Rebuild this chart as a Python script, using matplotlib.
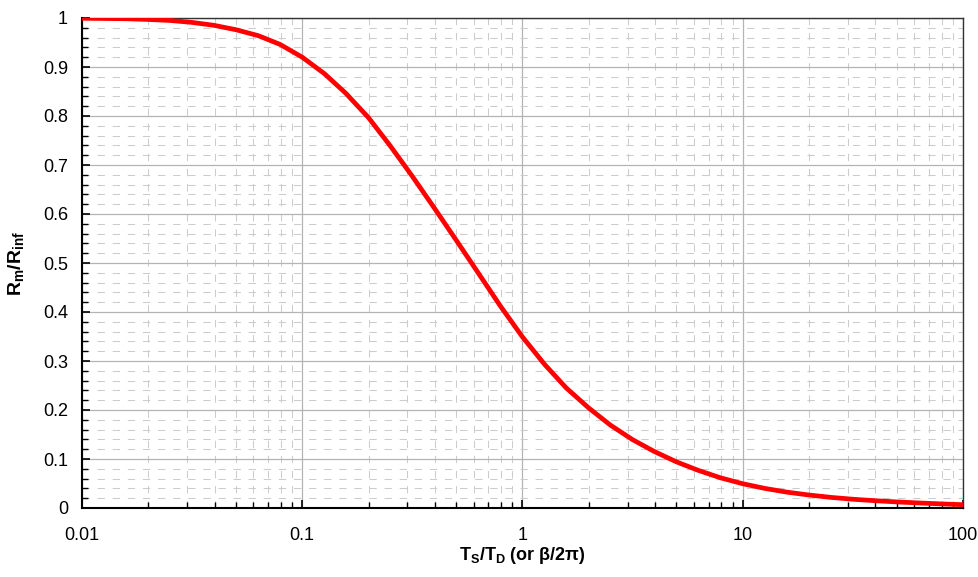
import matplotlib
matplotlib.use("Agg")
import matplotlib.pyplot as plt
from matplotlib.ticker import FixedLocator, NullFormatter

plt.rcParams['font.family'] = ['Liberation Sans', 'DejaVu Sans']
plt.rcParams['mathtext.fontset'] = 'custom'
plt.rcParams['mathtext.rm'] = 'Liberation Sans:bold'
plt.rcParams['mathtext.bf'] = 'Liberation Sans:bold'
plt.rcParams['mathtext.it'] = 'Liberation Sans:bold'
plt.rcParams['mathtext.default'] = 'bf'

# Data
ts_td = [0.01, 0.0126, 0.0158, 0.02, 0.0251, 0.0316, 0.0398, 0.0501, 0.0631, 0.0794,
         0.1, 0.126, 0.158, 0.2, 0.251, 0.316, 0.398, 0.501, 0.631, 0.794,
         1.0, 1.26, 1.58, 2.0, 2.51, 3.16, 3.98, 5.01, 6.31, 7.94,
         10.0, 12.6, 15.8, 20.0, 25.1, 31.6, 39.8, 50.1, 63.1, 79.4, 100.0]
rm_rinf = [0.9995, 0.999, 0.9985, 0.997, 0.995, 0.991, 0.985, 0.976, 0.964, 0.946,
           0.920, 0.8865, 0.846, 0.7965, 0.739, 0.677, 0.612, 0.546, 0.479, 0.412,
           0.349, 0.293, 0.245, 0.204, 0.169, 0.1395, 0.115, 0.094, 0.0765, 0.0615,
           0.0495, 0.040, 0.0325, 0.0265, 0.0217, 0.0179, 0.0149, 0.0124, 0.0103, 0.0084, 0.0067]

x_ticks = [0.01, 0.1, 1, 10, 100]
x_tick_labels = ['0.01', '0.1', '1', '10', '100']
y_ticks = [0, 0.1, 0.2, 0.3, 0.4, 0.5, 0.6, 0.7, 0.8, 0.9, 1.0]
y_tick_labels = ['0', '0.1', '0.2', '0.3', '0.4', '0.5', '0.6', '0.7', '0.8', '0.9', '1']

fig = plt.figure(figsize=(9.79, 5.77), dpi=100)
ax = fig.add_axes([82/979, 69/577, 881/979, 490/577])

ax.set_xscale('log')
ax.set_xlim(0.01, 100)
ax.set_ylim(0, 1)

x_minor = [m * 10.0**e for e in range(-2, 2) for m in range(2, 10)]
y_minor = [i * 0.02 for i in range(51) if i % 5 != 0]
ax.xaxis.set_major_locator(FixedLocator(x_ticks))
ax.xaxis.set_minor_locator(FixedLocator(x_minor))
ax.xaxis.set_minor_formatter(NullFormatter())
ax.set_xticklabels(x_tick_labels)
ax.yaxis.set_major_locator(FixedLocator(y_ticks))
ax.yaxis.set_minor_locator(FixedLocator(y_minor))
ax.set_yticklabels(y_tick_labels)

ax.grid(which='major', color='#b4b4b4', linestyle='-', linewidth=0.9)
ax.grid(which='minor', color='#cccccc', linestyle=(0, (7, 7.5)), linewidth=0.75)
ax.set_axisbelow(True)

ax.plot(ts_td, rm_rinf, color='#ff0000', linewidth=3.4, solid_joinstyle='round',
        solid_capstyle='butt', zorder=3)

ax.tick_params(which='both', direction='in', top=False, right=False, colors='black')
ax.tick_params(which='major', length=6, width=1.2, labelsize=13)
ax.tick_params(which='minor', length=4, width=1.0)
ax.tick_params(axis='y', which='major', pad=10)
ax.tick_params(axis='x', which='major', pad=14)

for side in ['left', 'bottom']:
    ax.spines[side].set_linewidth(1.5)
    ax.spines[side].set_color('black')
for side in ['top', 'right']:
    ax.spines[side].set_linewidth(1.0)
    ax.spines[side].set_color('#333333')

ax.set_xlabel('T$_S$/T$_D$ (or β/2π)', fontsize=13, fontweight='bold')
ax.set_ylabel('R$_m$/R$_{inf}$', fontsize=14, fontweight='bold')
ax.xaxis.set_label_coords(0.5, -0.076)
ax.yaxis.set_label_coords(-0.064, 0.5)

fig.savefig('out.png', dpi=100)
